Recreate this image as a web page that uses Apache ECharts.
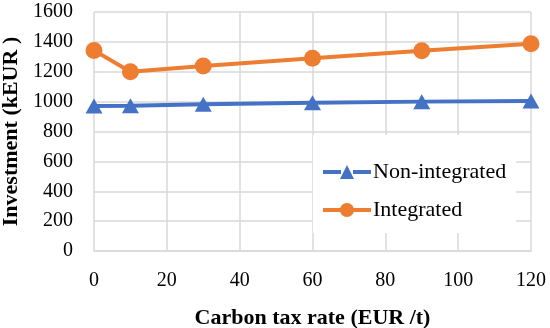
<!DOCTYPE html>
<html>
<head>
<meta charset="utf-8">
<script src="https://cdn.jsdelivr.net/npm/echarts@6/dist/echarts.min.js"></script>
<style>
html,body{margin:0;padding:0;background:#fff;}
#c{width:550px;height:328px;}
</style>
</head>
<body>
<div id="c"></div>
<script>
var taxRates = [0, 10, 30, 60, 90, 120];
var nonIntegrated = [970, 973, 982, 992, 1000, 1005];
var integrated = [1343, 1200, 1238, 1290, 1341, 1387];
var seriesNames = ['Non-integrated', 'Integrated'];
var xTitle = 'Carbon tax rate (EUR /t)';
var yTitle = 'Investment (kEUR )';

var font = '"Liberation Serif", "Times New Roman", serif';
var grid = '#d9d9d9';
var blue = '#4472C4';
var orange = '#ED7D31';

var triIcon = 'path://M0,5H18V9H0Z M30,5H48V9H30Z M17,14L24,0L31,14Z';
var cirIcon = 'path://M0,5H18V9H0Z M30,5H48V9H30Z M24,0C27.866,0 31,3.134 31,7C31,10.866 27.866,14 24,14C20.134,14 17,10.866 17,7C17,3.134 20.134,0 24,0Z';

function pairs(xs, ys){ return xs.map(function(x,i){ return [x, ys[i]]; }); }

var chart = echarts.init(document.getElementById('c'), null, {renderer:'canvas'});
chart.setOption({
  animation:false,
  backgroundColor:'#fff',
  grid:{left:94, right:19, top:12, bottom:77, containLabel:false, outerBoundsMode:'none'},
  xAxis:{
    type:'value', min:0, max:120, interval:20,
    name:xTitle, nameLocation:'middle', nameGap:56,
    nameTextStyle:{fontFamily:font, fontWeight:'bold', fontSize:22, color:'#000'},
    axisLine:{show:true, lineStyle:{color:grid, width:1.5}},
    axisTick:{show:false},
    axisLabel:{fontFamily:font, fontSize:20, color:'#000', margin:20},
    splitLine:{show:true, lineStyle:{color:grid, width:1.5}}
  },
  yAxis:{
    type:'value', min:0, max:1600, interval:200,
    name:yTitle, nameLocation:'middle', nameGap:70, nameRotate:90,
    nameTextStyle:{fontFamily:font, fontWeight:'bold', fontSize:22, color:'#000'},
    axisLine:{show:false},
    axisTick:{show:false},
    axisLabel:{fontFamily:font, fontSize:20, color:'#000', margin:21,
      formatter:function(v){ return String(v); }},
    splitLine:{show:true, lineStyle:{color:grid, width:1.5}}
  },
  legend:{
    orient:'vertical',
    left:313, top:135,
    width:215,
    backgroundColor:'#fff',
    padding:[26,10,12,10],
    itemWidth:48, itemHeight:14, itemGap:16,
    textStyle:{fontFamily:font, fontSize:22, color:'#000', padding:[0,0,0,-3]},
    data:[
      {name:seriesNames[0], icon:triIcon},
      {name:seriesNames[1], icon:cirIcon}
    ]
  },
  series:[
    {name:seriesNames[0], type:'line', data:pairs(taxRates, nonIntegrated),
     symbol:'triangle', symbolSize:[17,15], lineStyle:{color:blue, width:4},
     itemStyle:{color:blue}, z:3},
    {name:seriesNames[1], type:'line', data:pairs(taxRates, integrated),
     symbol:'circle', symbolSize:17, lineStyle:{color:orange, width:4},
     itemStyle:{color:orange}, z:3}
  ]
});
</script>
</body>
</html>
